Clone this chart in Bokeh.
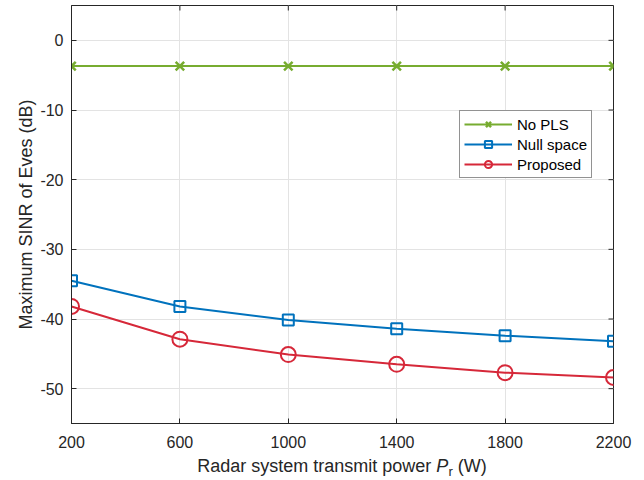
import math
from bokeh.plotting import figure
from bokeh.models import Range1d, FixedTicker, Legend, LegendItem, Div
from bokeh.layouts import column
from bokeh.embed import file_html
from bokeh.resources import INLINE

power = [200, 600, 1000, 1400, 1800, 2200]
no_pls = [-3.7, -3.7, -3.7, -3.7, -3.7, -3.7]
null_space = [-34.5, -38.2, -40.15, -41.4, -42.4, -43.2]
proposed = [-38.2, -42.9, -45.1, -46.5, -47.7, -48.4]
x_ticks = [200, 600, 1000, 1400, 1800, 2200]
y_ticks = [0, -10, -20, -30, -40, -50]
y_tick_labels = ["0", "-10", "-20", "-30", "-40", "-50"]

GREEN = "#77AC30"
BLUE = "#0072BD"
RED = "#D62839"
AX = "#262626"
FONT = "Liberation Sans"

X0, X1, Y0, Y1 = 200, 2200, -55, 5

p = figure(width=644, height=455, output_backend="svg", toolbar_location=None,
           x_range=Range1d(X0, X1), y_range=Range1d(Y0, Y1),
           min_border_left=71, min_border_right=31, min_border_top=5, min_border_bottom=32)
p.outline_line_color = AX
p.outline_line_width = 1

for ax in (p.xaxis[0], p.yaxis[0]):
    ax.major_tick_in = 5
    ax.major_tick_out = 0
    ax.minor_tick_line_color = None
    ax.axis_line_color = AX
    ax.major_tick_line_color = AX
    ax.major_label_text_color = AX
    ax.major_label_text_font = FONT
    ax.major_label_text_font_size = "16px"
    ax.axis_label_text_font = FONT
    ax.axis_label_text_font_size = "18px"
    ax.axis_label_text_font_style = "normal"
    ax.axis_label_text_color = AX
p.xaxis.ticker = FixedTicker(ticks=x_ticks)
p.yaxis.ticker = FixedTicker(ticks=y_ticks)
p.yaxis.major_label_overrides = {t: s for t, s in zip(y_ticks, y_tick_labels)}
p.xaxis.major_label_standoff = 12
p.yaxis.major_label_standoff = 8
p.yaxis.axis_label = "Maximum SINR of Eves (dB)"
p.yaxis.axis_label_standoff = 1

# inward ticks on the top and right edges of the box
p.ray(x=x_ticks, y=[Y1] * len(x_ticks), length=5, length_units="screen",
      angle=-math.pi / 2, line_color=AX, line_width=1)
p.ray(x=[X1] * len(y_ticks), y=y_ticks, length=5, length_units="screen",
      angle=math.pi, line_color=AX, line_width=1)

p.xgrid.ticker = FixedTicker(ticks=x_ticks)
p.ygrid.ticker = FixedTicker(ticks=y_ticks)
p.grid.grid_line_color = "#E3E3E3"
p.grid.grid_line_width = 1

l1 = p.line(power, no_pls, line_color=GREEN, line_width=2)
m1 = p.scatter(power, no_pls, marker="x", size=12, line_color=GREEN, line_width=2.5)
l2 = p.line(power, null_space, line_color=BLUE, line_width=2)
m2 = p.scatter(power, null_space, marker="square", size=11, line_color=BLUE,
               fill_color=None, line_width=2)
l3 = p.line(power, proposed, line_color=RED, line_width=2)
m3 = p.scatter(power, proposed, marker="circle", size=15, line_color=RED,
               fill_color=None, line_width=2)

legend = Legend(items=[
    LegendItem(label="No PLS", renderers=[l1, m1]),
    LegendItem(label="Null space", renderers=[l2, m2]),
    LegendItem(label="Proposed", renderers=[l3, m3]),
], location=(388, 245))
legend.label_text_font = FONT
legend.label_text_font_size = "15px"
legend.label_text_color = "#000000"
legend.border_line_color = AX
legend.border_line_width = 1
legend.glyph_width = 48
legend.glyph_height = 18
legend.label_height = 18
legend.spacing = 2
legend.padding = 4
legend.margin = 0
legend.label_standoff = 5
legend.background_fill_alpha = 1
p.add_layout(legend, "center")

# x-axis title with italic P and subscript r
xtitle = Div(
    text='Radar system transmit power <i>P</i><span style="font-size:13px;'
         'position:relative;top:4px;line-height:0;">r</span> (W)',
    width=542, height=25, margin=(0, 0, 0, 71),
    styles={"font-family": "Liberation Sans", "font-size": "18px", "color": AX,
            "text-align": "center", "line-height": "20px", "padding-top": "1px",
            "white-space": "nowrap"})

layout = column(p, xtitle, spacing=0)
open("out.html", "w").write(file_html(layout, INLINE))
